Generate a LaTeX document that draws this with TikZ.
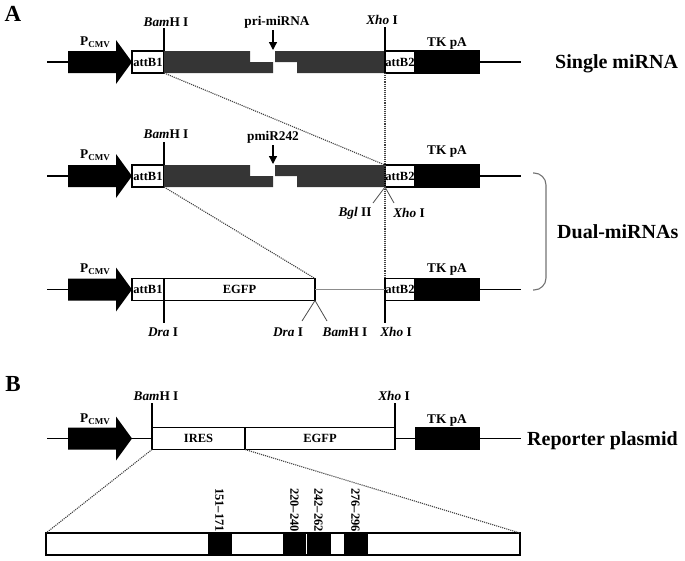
\documentclass[tikz,border=0pt]{standalone}
\usepackage{fontspec}
\setmainfont{Liberation Serif}
\usetikzlibrary{arrows.meta}
\newcommand\lblfont{\fontsize{13.3}{15}\selectfont\bfseries}
\newcommand\boxfont{\fontsize{12.5}{14}\selectfont\bfseries}
\newcommand\titlefont{\fontsize{20}{22}\selectfont\bfseries}
\newcommand\pcmv{P{\fontsize{9}{9}\selectfont\raisebox{-1.6pt}{CMV}}}
\definecolor{darkseg}{HTML}{353535}
\tikzset{
  box/.style={draw, line width=1.2pt, fill=white, minimum height=22pt, inner sep=0pt, outer sep=0pt, anchor=west, font=\boxfont},
  blk/.style={draw, fill=black, line width=1.2pt, minimum height=22pt, inner sep=0pt, outer sep=0pt, anchor=west},
  gene/.style={line width=1.3pt},
  tickline/.style={line width=1.2pt},
  slant/.style={line width=0.8pt, black!70},
  dots/.style={densely dotted, line width=1.1pt, black!75},
  lab/.style={font=\lblfont, inner sep=0pt},
  ttl/.style={font=\titlefont, inner sep=0pt, anchor=base west},
  panel/.style={font=\fontsize{23}{24}\selectfont\bfseries, inner sep=0pt},
  pin/.style={-{Triangle[length=8pt,width=8pt]}, line width=1.3pt},
  num/.style={font=\fontsize{12.5}{14}\selectfont\bfseries, rotate=-90, anchor=east, inner sep=0pt}
}
\newcommand\cmvarrow[1]{\fill (68,#1-11) -- (116,#1-11) -- (116,#1-22) -- (132,#1) -- (116,#1+22) -- (116,#1+11) -- (68,#1+11) -- cycle;}
\begin{document}
\begin{tikzpicture}[x=1pt,y=-1pt]
\useasboundingbox (0,0) rectangle (685,560);

% ---------------- Panel A ----------------
\node[panel] (pA) at (13,14) {A};

% Row 1
\coordinate (r1s) at (47,62);
\coordinate (r1a) at (68,62);
\draw[gene] (r1s) -- (r1a);
\cmvarrow{62}
\node[lab] (r1p) at (95,42) {\pcmv};
\node[box, minimum width=32pt] (r1b1) at (132,62) {attB1};
\fill[darkseg] (164,51) -- (250,51) -- (250,62) -- (273,62) -- (273,73) -- (164,73) -- cycle;
\fill[darkseg] (275,51) -- (385,51) -- (385,73) -- (297,73) -- (297,62) -- (275,62) -- cycle;
\node[box, minimum width=30pt] (r1b2) at (385,62) {attB2};
\node[blk, minimum width=64pt] (r1tk) at (415,62) {};
\coordinate (r1e) at (521,62);
\draw[gene] (r1tk.east) -- (r1e);
\node[lab] (r1bam) at (166,22) {\textit{Bam}H I};
\coordinate (r1bamt) at (164,28);
\draw[tickline] (r1bamt) -- (r1b1.north east);
\node[lab] (r1pri) at (277,22) {pri-miRNA};
\coordinate (r1pt) at (273,30);
\coordinate (r1ph) at (273,50);
\draw[pin] (r1pt) -- (r1ph);
\node[lab] (r1xho) at (382,20) {\textit{Xho} I};
\coordinate (r1xhot) at (385,27);
\draw[tickline] (r1xhot) -- (r1b2.north west);
\node[lab] (r1tkl) at (447,44) {TK pA};
\node[ttl] (single) at (555,68) {Single miRNA};

% Row 2
\coordinate (r2s) at (47,176);
\coordinate (r2a) at (68,176);
\draw[gene] (r2s) -- (r2a);
\cmvarrow{176}
\node[lab] (r2p) at (95,155) {\pcmv};
\node[box, minimum width=32pt] (r2b1) at (132,176) {attB1};
\fill[darkseg] (164,165) -- (250,165) -- (250,176) -- (273,176) -- (273,187) -- (164,187) -- cycle;
\fill[darkseg] (275,165) -- (385,165) -- (385,187) -- (297,187) -- (297,176) -- (275,176) -- cycle;
\node[box, minimum width=30pt] (r2b2) at (385,176) {attB2};
\node[blk, minimum width=64pt] (r2tk) at (415,176) {};
\coordinate (r2e) at (521,176);
\draw[gene] (r2tk.east) -- (r2e);
\node[lab] (r2bam) at (166,134) {\textit{Bam}H I};
\coordinate (r2bamt) at (164,142);
\draw[tickline] (r2bamt) -- (r2b1.north east);
\node[lab] (r2pmi) at (273,137) {pmiR242};
\coordinate (r2pt) at (273,145);
\coordinate (r2ph) at (273,164);
\draw[pin] (r2pt) -- (r2ph);
\node[lab] (r2tkl) at (447,152) {TK pA};
\node[lab] (r2bgl) at (355,213) {\textit{Bgl} II};
\node[lab] (r2xho) at (409,213) {\textit{Xho} I};
\coordinate (r2bglt) at (373,203);
\coordinate (r2xhot) at (394,203);
\draw[slant] (r2b2.south west) -- (r2bglt);
\draw[slant] (r2b2.south west) -- (r2xhot);

% Row 3
\coordinate (r3s) at (47,289.5);
\coordinate (r3a) at (68,289.5);
\draw[gene] (r3s) -- (r3a);
\cmvarrow{289.5}
\node[lab] (r3p) at (95,269) {\pcmv};
\node[box, minimum width=32pt] (r3b1) at (132,289.5) {attB1};
\node[box, minimum width=151pt] (r3egfp) at (164,289.5) {EGFP};
\node[box, minimum width=30pt] (r3b2) at (385,289.5) {attB2};
\draw[line width=1pt, black!45] (r3egfp.east) -- (r3b2.west);
\node[blk, minimum width=64pt] (r3tk) at (415,289.5) {};
\coordinate (r3e) at (521,289.5);
\draw[gene] (r3tk.east) -- (r3e);
\node[lab] (r3tkl) at (447,270) {TK pA};
\coordinate (r3dra1t) at (164,323);
\draw[tickline] (r3egfp.south west) -- (r3dra1t);
\node[lab] (r3dra1) at (163,332) {\textit{Dra} I};
\coordinate (r3dra2t) at (302,321);
\coordinate (r3bamt) at (327,321);
\draw[slant] (r3egfp.south east) -- (r3dra2t);
\draw[slant] (r3egfp.south east) -- (r3bamt);
\node[lab] (r3dra2) at (288,332) {\textit{Dra} I};
\node[lab] (r3bam) at (345,332) {\textit{Bam}H I};
\coordinate (r3xhot) at (385,323);
\draw[tickline] (r3b2.south west) -- (r3xhot);
\node[lab] (r3xho) at (396,332) {\textit{Xho} I};

% dotted guides
\draw[dots] (r1b1.south east) -- (r2b2.north west);
\draw[dots] (r1b2.south west) -- (r3b2.north west);
\draw[dots] (r2b1.south east) -- (r3egfp.north east);

% brace
\coordinate (brT) at (533,173);
\coordinate (brB) at (533,290);
\draw[line width=1.1pt, black!55, rounded corners=12pt] (brT) -- (546,173) -- (546,290) -- (brB);
\node[ttl] (dual) at (557,238) {Dual-miRNAs};

% ---------------- Panel B ----------------
\node[panel] (pB) at (13,384) {B};
\coordinate (rbs) at (47,438.5);
\coordinate (rba) at (68,438.5);
\draw[gene] (rbs) -- (rba);
\cmvarrow{438.5}
\node[lab] (rbp) at (95,419) {\pcmv};
\coordinate (rbt) at (132,438.5);
\node[box, minimum width=93pt] (ires) at (152,438.5) {IRES};
\node[box, minimum width=150pt] (begfp) at (245,438.5) {EGFP};
\draw[gene] (rbt) -- (ires.west);
\node[blk, minimum width=63pt] (rbtk) at (416,438.5) {};
\draw[gene] (begfp.east) -- (rbtk.west);
\coordinate (rbe) at (521,438.5);
\draw[gene] (rbtk.east) -- (rbe);
\node[lab] (rbtkl) at (447,421) {TK pA};
\node[lab] (rbbam) at (156,396) {\textit{Bam}H I};
\coordinate (rbbamt) at (152,403);
\draw[tickline] (rbbamt) -- (ires.north west);
\node[lab] (rbxho) at (394,396) {\textit{Xho} I};
\coordinate (rbxhot) at (395,403);
\draw[tickline] (rbxhot) -- (begfp.north east);
\node[ttl] (rep) at (527,445) {Reporter plasmid};

% expanded bar
\node[draw, line width=1.2pt, minimum width=474pt, minimum height=22pt, inner sep=0pt, outer sep=0pt, anchor=north west] (bar) at (46,533) {};
\node[blk, line width=0pt, minimum width=23pt] (s1) at (208,544) {};
\node[blk, line width=0pt, minimum width=22pt] (s2) at (283,544) {};
\node[blk, line width=0pt, minimum width=23pt] (s3) at (307,544) {};
\node[blk, line width=0pt, minimum width=23pt] (s4) at (344,544) {};
\node[num] (n1) at (219.5,532) {151--171};
\node[num] (n2) at (294.5,532) {220--240};
\node[num] (n3) at (318.5,532) {242--262};
\node[num] (n4) at (355.5,532) {276--296};
\draw[dots] (ires.south west) -- (bar.north west);
\draw[dots] (ires.south east) -- (bar.north east);
\end{tikzpicture}
\end{document}
